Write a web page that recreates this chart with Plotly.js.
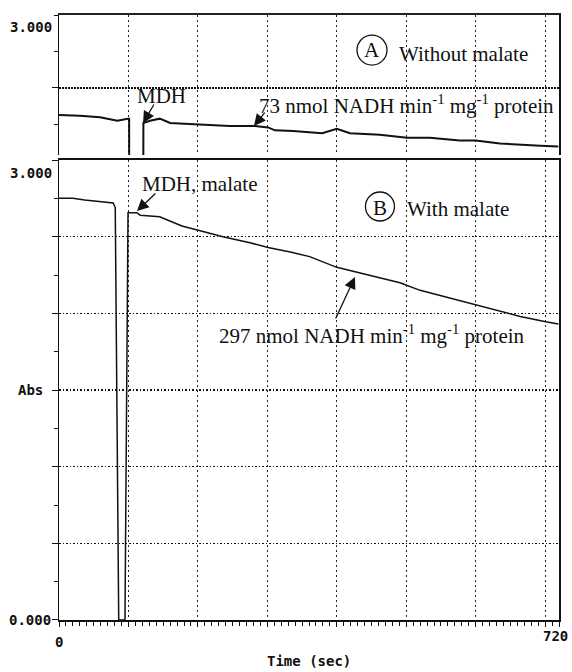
<!DOCTYPE html>
<html><head><meta charset="utf-8">
<script src="https://cdn.plot.ly/plotly-3.0.1.min.js"></script>
<style>html,body{margin:0;padding:0;background:#fff}</style>
</head><body><div id="chart" style="width:572px;height:672px"></div>
<script>
// Panel A: without malate
const timeA = [0,30,59,84,99,101,101.5,121,121.5,131,145,160,202,246,282,301,311,337,379,400,419,462,501,534,577,600,635,664,693,719];
const absA  = [2.315,2.31,2.30,2.276,2.29,2.29,0,0,2.26,2.276,2.29,2.26,2.25,2.24,2.24,2.23,2.21,2.205,2.19,2.22,2.19,2.18,2.16,2.16,2.14,2.14,2.12,2.11,2.105,2.10];
// Panel B: with malate
const timeB = [0,20,37,59,78,81,86,95,99.4,112,117,145,177,202,236,275,301,333,361,400,426,491,520,580,621,664,701,719];
const absB  = [2.75,2.75,2.74,2.73,2.72,2.69,0,0,2.656,2.656,2.64,2.63,2.57,2.54,2.50,2.46,2.43,2.40,2.37,2.30,2.27,2.20,2.15,2.08,2.03,1.98,1.945,1.93];

const xGridVals = [100,200,300,400,500,600,700];
const xTickVals = [0,100,200,300,400,500,600,700,720];
const xEndLabels = ['0','720'];
const yTickVals = [0,0.5,1,1.5,2,2.5,3];
const yEndLabels = ['0.000','3.000'];

const serif = {family:'Liberation Serif, Times New Roman, serif', size:21, color:'#111', weight:'normal'};
const mono = {family:'DejaVu Sans Mono, monospace', size:14, color:'#111', weight:'bold'};
const ink = '#111';

const traces = [
  {x: timeA, y: absA, xaxis:'x2', yaxis:'y2', mode:'lines', line:{color:ink, width:2}, hoverinfo:'skip'},
  {x: timeB, y: absB, xaxis:'x', yaxis:'y', mode:'lines', line:{color:ink, width:1.5}, hoverinfo:'skip'}
];

const arrow = (x, y, ax, ay, xr, yr) => ({x, y, ax, ay, xref:xr, yref:yr, axref:xr, ayref:yr,
  text:'', showarrow:true, arrowhead:2, arrowsize:1.8, arrowwidth:1.3, arrowcolor:ink, standoff:0, startstandoff:0});

const layout = {
  width:572, height:672,
  margin:{l:59, r:13, t:15, b:52},
  paper_bgcolor:'#fff', plot_bgcolor:'#fff',
  showlegend:false,
  font: mono,
  xaxis: {
    domain:[0,1], anchor:'y', range:[0,720], tickmode:'array', tickvals:xTickVals, showticklabels:false,
    ticks:'outside', ticklen:5, tickcolor:ink, tickwidth:1,
    showline:true, mirror:true, linecolor:ink, linewidth:2,
    showgrid:true, gridcolor:'#222', gridwidth:1, griddash:'2px,3px', zeroline:false,
    minor:{tickmode:'linear', tick0:0, dtick:10, ticks:'outside', ticklen:4, tickcolor:ink, tickwidth:1, showgrid:false}
  },
  yaxis: {
    domain:[0,0.7603], anchor:'x', range:[0,3], tickmode:'array', tickvals:yTickVals, showticklabels:false,
    ticks:'outside', ticklen:6, tickcolor:ink, tickwidth:1,
    showline:true, mirror:true, linecolor:ink, linewidth:1.5,
    showgrid:true, gridcolor:'#111', gridwidth:1.2, griddash:'1.5px,2px', zeroline:false,
    minor:{tickmode:'linear', tick0:0, dtick:0.25, ticks:'outside', ticklen:4, tickcolor:ink, tickwidth:1, showgrid:false}
  },
  xaxis2: {
    domain:[0,1], anchor:'y2', side:'top', range:[0,720], tickmode:'array', tickvals:xGridVals,
    ticks:'', showticklabels:false,
    showline:true, mirror:false, linecolor:'#222', linewidth:2.5,
    showgrid:true, gridcolor:'#222', gridwidth:1, griddash:'2px,3px', zeroline:false
  },
  yaxis2: {
    domain:[0.7686,1], anchor:'x2', range:[2.041,3], tickmode:'array', tickvals:[2.5], showticklabels:false,
    ticks:'outside', ticklen:6, tickcolor:ink, tickwidth:1,
    showline:true, mirror:true, linecolor:ink, linewidth:1.5,
    showgrid:true, gridcolor:'#111', gridwidth:1.4, griddash:'1.5px,1.5px', zeroline:false,
    minor:{tickmode:'linear', tick0:0, dtick:0.25, ticks:'outside', ticklen:4, tickcolor:ink, tickwidth:1, showgrid:false}
  },
  shapes: [
    {type:'circle', xref:'x2', yref:'y2', xsizemode:'pixel', ysizemode:'pixel', xanchor:450.7, yanchor:2.760,
     x0:-15, x1:15, y0:-15, y1:15, line:{color:ink, width:1.3}},
    {type:'circle', xref:'x', yref:'y', xsizemode:'pixel', ysizemode:'pixel', xanchor:462.2, yanchor:2.697,
     x0:-14.5, x1:14.5, y0:-14.5, y1:14.5, line:{color:ink, width:1.3}}
  ],
  annotations: [
    // axis labels
    {text:yEndLabels[1], xref:'paper', x:0, xanchor:'right', xshift:-5, yref:'y2', y:3, yanchor:'middle', yshift:-12, showarrow:false, font:mono},
    {text:yEndLabels[1], xref:'paper', x:0, xanchor:'right', xshift:-5, yref:'y', y:3, yanchor:'middle', yshift:-13, showarrow:false, font:mono},
    {text:yEndLabels[0], xref:'paper', x:0, xanchor:'right', xshift:-6, yref:'y', y:0, yanchor:'middle', showarrow:false, font:mono},
    {text:xEndLabels[0], xref:'x', x:0, xanchor:'center', yref:'paper', y:-0.0314, yanchor:'middle', yshift:-3, showarrow:false, font:mono},
    {text:xEndLabels[1], xref:'x', x:720, xanchor:'center', xshift:-4, yref:'paper', y:-0.0314, yanchor:'middle', yshift:3, showarrow:false, font:mono},
    {text:'Abs', xref:'paper', x:-0.058, xanchor:'center', yref:'y', y:1.5, yanchor:'middle', showarrow:false, font:mono},
    {text:'Time (sec)', xref:'paper', x:0.5, xanchor:'center', yref:'paper', y:-0.0678, yanchor:'middle', showarrow:false, font:mono},
    // panel A
    {text:'A', xref:'x2', yref:'y2', x:450.7, y:2.757, xanchor:'center', yanchor:'middle', showarrow:false, font:serif},
    {text:'Without malate', xref:'x2', yref:'y2', x:486.7, y:2.733, xanchor:'left', yanchor:'middle', showarrow:false, font:serif},
    {text:'MDH', xref:'x2', yref:'y2', x:146.9, y:2.445, xanchor:'center', yanchor:'middle', showarrow:false, font:serif},
    arrow(121, 2.260, 138, 2.397, 'x2', 'y2'),
    {text:'73 nmol NADH min<sup>-1</sup> mg<sup>-1</sup> protein', xref:'x2', yref:'y2', x:285.1, y:2.384, xanchor:'left', yanchor:'middle', showarrow:false, font:serif},
    arrow(280.8, 2.240, 298, 2.342, 'x2', 'y2'),
    // panel B
    {text:'B', xref:'x', yref:'y', x:462.2, y:2.690, xanchor:'center', yanchor:'middle', showarrow:false, font:serif},
    {text:'With malate', xref:'x', yref:'y', x:498.2, y:2.680, xanchor:'left', yanchor:'middle', showarrow:false, font:serif},
    {text:'MDH, malate', xref:'x', yref:'y', x:116.6, y:2.843, xanchor:'left', yanchor:'middle', showarrow:false, font:serif},
    arrow(112.3, 2.667, 141, 2.791, 'x', 'y'),
    {text:'297 nmol NADH min<sup>-1</sup> mg<sup>-1</sup> protein', xref:'x', yref:'y', x:227.5, y:1.865, xanchor:'left', yanchor:'middle', showarrow:false, font:serif},
    arrow(426.2, 2.237, 397.4, 1.957, 'x', 'y')
  ]
};

Plotly.newPlot('chart', traces, layout, {displayModeBar:false, staticPlot:true});
</script>
</body></html>
